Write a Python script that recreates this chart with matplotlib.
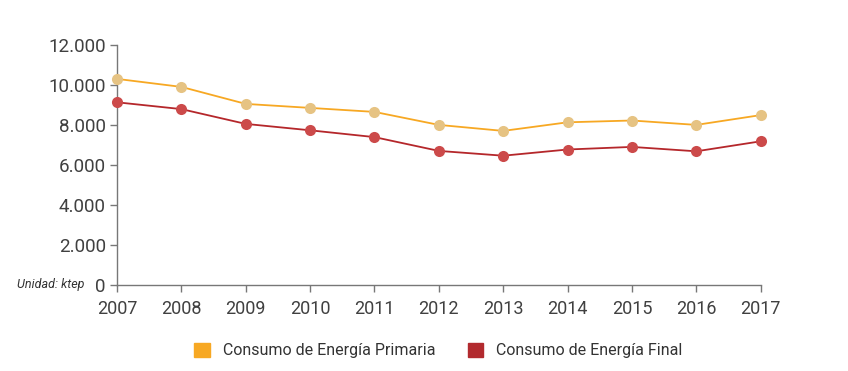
import matplotlib
matplotlib.use("Agg")
import matplotlib.pyplot as plt
from matplotlib.patches import Patch
from matplotlib.ticker import FuncFormatter

plt.rcParams['font.family'] = ['Roboto', 'DejaVu Sans']

# Datos (ktep)
years = [2007, 2008, 2009, 2010, 2011, 2012, 2013, 2014, 2015, 2016, 2017]
primaria = [10300, 9900, 9050, 8850, 8650, 8000, 7700, 8130, 8220, 8000, 8490]
final = [9130, 8790, 8050, 7730, 7390, 6700, 6460, 6770, 6900, 6680, 7180]
y_ticks = [0, 2000, 4000, 6000, 8000, 10000, 12000]

fig = plt.figure(figsize=(8.48, 3.71), dpi=100)
ax = fig.add_axes([0.138, 0.232, 0.759, 0.647])

ax.plot(years, primaria, color='#F7A823', lw=1.3, zorder=2)
ax.plot(years, primaria, 'o', color='#E6C383', ms=8, mec='none', zorder=3, clip_on=False)
ax.plot(years, final, color='#B5272B', lw=1.3, zorder=2)
ax.plot(years, final, 'o', color='#CC4A4A', ms=8, mec='none', zorder=3, clip_on=False)

ax.set_xlim(2007, 2017)
ax.set_ylim(0, 12000)
ax.set_xticks(years)
ax.set_yticks(y_ticks)
ax.yaxis.set_major_formatter(FuncFormatter(lambda v, p: f"{int(v):,}".replace(",", ".")))

for s in ['top', 'right']:
    ax.spines[s].set_visible(False)
for s in ['left', 'bottom']:
    ax.spines[s].set_color('#777777')
    ax.spines[s].set_linewidth(1.0)

ax.tick_params(axis='both', colors='#777777', labelcolor='#404040', length=5, width=1)
ax.tick_params(axis='y', labelsize=13.5, pad=3)
ax.tick_params(axis='x', labelsize=13, pad=6)

fig.text(0.02, 0.232, 'Unidad: ktep', fontsize=9, style='italic', color='#333333',
         va='center', ha='left')

handles = [Patch(color='#F7A823', label='Consumo de Energía Primaria'),
           Patch(color='#B22A2E', label='Consumo de Energía Final')]
fig.legend(handles=handles, loc='center', bbox_to_anchor=(0.517, 0.055), ncol=2,
           frameon=False, fontsize=11.5, handlelength=1.0, handleheight=1.0,
           columnspacing=2.0, handletextpad=0.8, labelcolor='#333333')

fig.savefig('out.png', dpi=100)
